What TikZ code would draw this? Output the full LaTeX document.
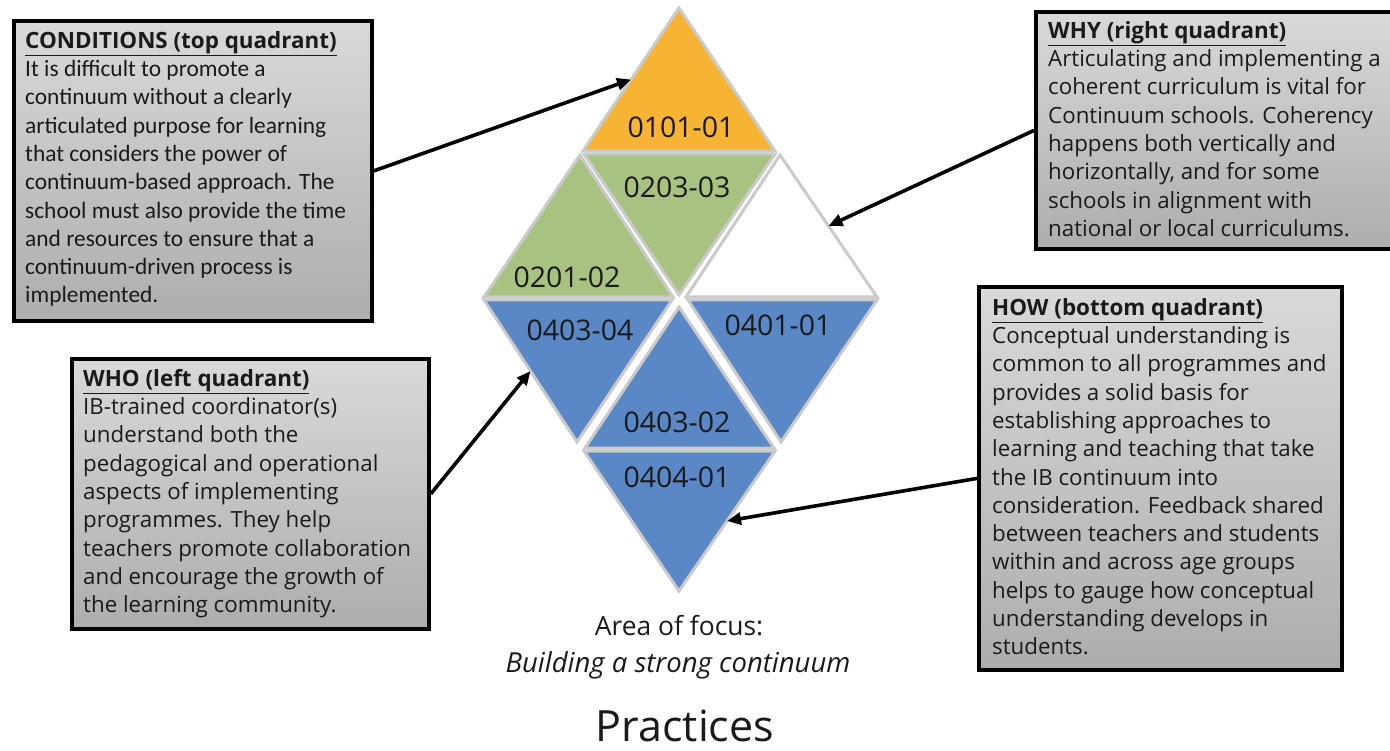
\documentclass[tikz,border=0pt]{standalone}
\usepackage{fontspec}
\setmainfont{Open Sans}
\newfontfamily\calib{Carlito}
\usetikzlibrary{arrows.meta,calc}

\definecolor{triorange}{HTML}{F6B334}
\definecolor{trigreen}{HTML}{A8C381}
\definecolor{triblue}{HTML}{5A87C5}
\definecolor{triedge}{HTML}{CACACA}
\definecolor{paneltop}{HTML}{D9D9D9}
\definecolor{panelbot}{HTML}{ADADAD}
\definecolor{inktext}{HTML}{1A1A1A}

\newcommand{\panelhead}[1]{\underline{\rmfamily\fontsize{22.4}{28.3}\selectfont\bfseries #1}}

\begin{document}
\begin{tikzpicture}[x=1pt,y=-1pt,
  tri/.style={draw=triedge, line width=3pt, line join=miter},
  tlabel/.style={font=\fontsize{28.5}{31}\selectfont, inner sep=0, text=inktext},
  panel/.style={draw=black, line width=3.8pt, top color=paneltop, bottom color=panelbot,
    inner sep=0, anchor=north west},
  ptext/.style={align=left, anchor=north west, inner sep=0, text=inktext,
    font=\fontsize{22.3}{28.3}\selectfont},
  ctext/.style={align=left, anchor=north west, inner sep=0, text=inktext,
    font=\calib\fontsize{23.4}{28.3}\selectfont},
  pointer/.style={line width=3.6pt, -{Triangle[length=14pt,width=12pt]}},
]
\useasboundingbox (0,0) rectangle (1390,751);

% ---------- triangle vertices ----------
% row 1
\coordinate (a1t) at (679,8);   \coordinate (a1l) at (583,151); \coordinate (a1r) at (775,151);
% row 2
\coordinate (b1t) at (580,155); \coordinate (b1l) at (484,297); \coordinate (b1r) at (673,297);
\coordinate (b2l) at (584,154); \coordinate (b2r) at (775,154); \coordinate (b2b) at (679,295);
\coordinate (b3t) at (780,155); \coordinate (b3l) at (686,297); \coordinate (b3r) at (877,297);
% row 3
\coordinate (c1l) at (484,300); \coordinate (c1r) at (672,300); \coordinate (c1b) at (577,442);
\coordinate (c2t) at (679,307); \coordinate (c2l) at (585,448); \coordinate (c2r) at (774,448);
\coordinate (c3l) at (688,300); \coordinate (c3r) at (877,300); \coordinate (c3b) at (781,442);
% row 4
\coordinate (d1l) at (584,451); \coordinate (d1r) at (775,451); \coordinate (d1b) at (679,591);

% ---------- triangles ----------
\filldraw[tri, fill=triorange] (a1t) -- (a1l) -- (a1r) -- cycle;
\filldraw[tri, fill=trigreen]  (b1t) -- (b1l) -- (b1r) -- cycle;
\filldraw[tri, fill=trigreen]  (b2l) -- (b2r) -- (b2b) -- cycle;
\filldraw[tri, fill=white]     (b3t) -- (b3l) -- (b3r) -- cycle;
\filldraw[tri, fill=triblue]   (c1l) -- (c1r) -- (c1b) -- cycle;
\filldraw[tri, fill=triblue]   (c2t) -- (c2l) -- (c2r) -- cycle;
\filldraw[tri, fill=triblue]   (c3l) -- (c3r) -- (c3b) -- cycle;
\filldraw[tri, fill=triblue]   (d1l) -- (d1r) -- (d1b) -- cycle;

\node[tlabel] (l0101) at (681,127) {0101-01};
\node[tlabel] (l0203) at (677,187) {0203-03};
\node[tlabel] (l0201) at (567,277) {0201-02};
\node[tlabel] (l04034) at (580,330) {0403-04};
\node[tlabel] (l0401) at (778,325) {0401-01};
\node[tlabel] (l04032) at (677,422) {0403-02};
\node[tlabel] (l0404) at (677,477) {0404-01};

% arrow targets on triangle edges
\coordinate (tgtcond) at ($(a1t)!0.5!(a1l)$);
\coordinate (tgtwhy)  at ($(b3t)!0.5!(b3r)$);
\coordinate (tgtwho)  at ($(c1l)!0.5!(c1b)$);
\coordinate (tgthow)  at ($(d1r)!0.5!(d1b)$);

% ---------- panels ----------
\node[panel, minimum width=358pt, minimum height=300pt] (cond) at (12,19) {};
\node[ctext] (condtxt) at (25,31) {%
\panelhead{CONDITIONS (top quadrant)}\\
It is difficult to promote a\\
continuum without a clearly\\
articulated purpose for learning\\
that considers the power of\\
continuum-based approach. The\\
school must also provide the time\\
and resources to ensure that a\\
continuum-driven process is\\
implemented.};

\node[panel, minimum width=362pt, minimum height=237pt] (why) at (1034,10) {};
\node[ptext] (whytxt) at (1048,21) {%
\panelhead{WHY (right quadrant)}\\
Articulating and implementing a\\
coherent curriculum is vital for\\
Continuum schools. Coherency\\
happens both vertically and\\
horizontally, and for some\\
schools in alignment with\\
national or local curriculums.};

\node[panel, minimum width=357pt, minimum height=270pt] (who) at (70,357) {};
\node[ptext] (whotxt) at (83,369) {%
\panelhead{WHO (left quadrant)}\\
IB-trained coordinator(s)\\
understand both the\\
pedagogical and operational\\
aspects of implementing\\
programmes. They help\\
teachers promote collaboration\\
and encourage the growth of\\
the learning community.};

\node[panel, minimum width=363pt, minimum height=383pt] (how) at (977,285) {};
\node[ptext] (howtxt) at (992,298) {%
\panelhead{HOW (bottom quadrant)}\\
Conceptual understanding is\\
common to all programmes and\\
provides a solid basis for\\
establishing approaches to\\
learning and teaching that take\\
the IB continuum into\\
consideration. Feedback shared\\
between teachers and students\\
within and across age groups\\
helps to gauge how conceptual\\
understanding develops in\\
students.};

% ---------- connectors ----------
\draw[pointer] (cond.east) -- (tgtcond);
\draw[pointer] (why.west) -- (tgtwhy);
\draw[pointer] (who.east) -- (tgtwho);
\draw[pointer] (how.west) -- (tgthow);

% ---------- caption ----------
\node[anchor=base, inner sep=0, text=inktext, font=\fontsize{26.4}{30}\selectfont] (area) at (679,635) {Area of focus:};
\node[anchor=base, inner sep=0, text=inktext, font=\fontsize{27.5}{30}\selectfont\itshape] (build) at (678,672) {Building a strong continuum};
\node[anchor=base, inner sep=0, text=inktext, font=\fontsize{43}{50}\selectfont] (prac) at (685,741) {Practices};
\end{tikzpicture}
\end{document}
